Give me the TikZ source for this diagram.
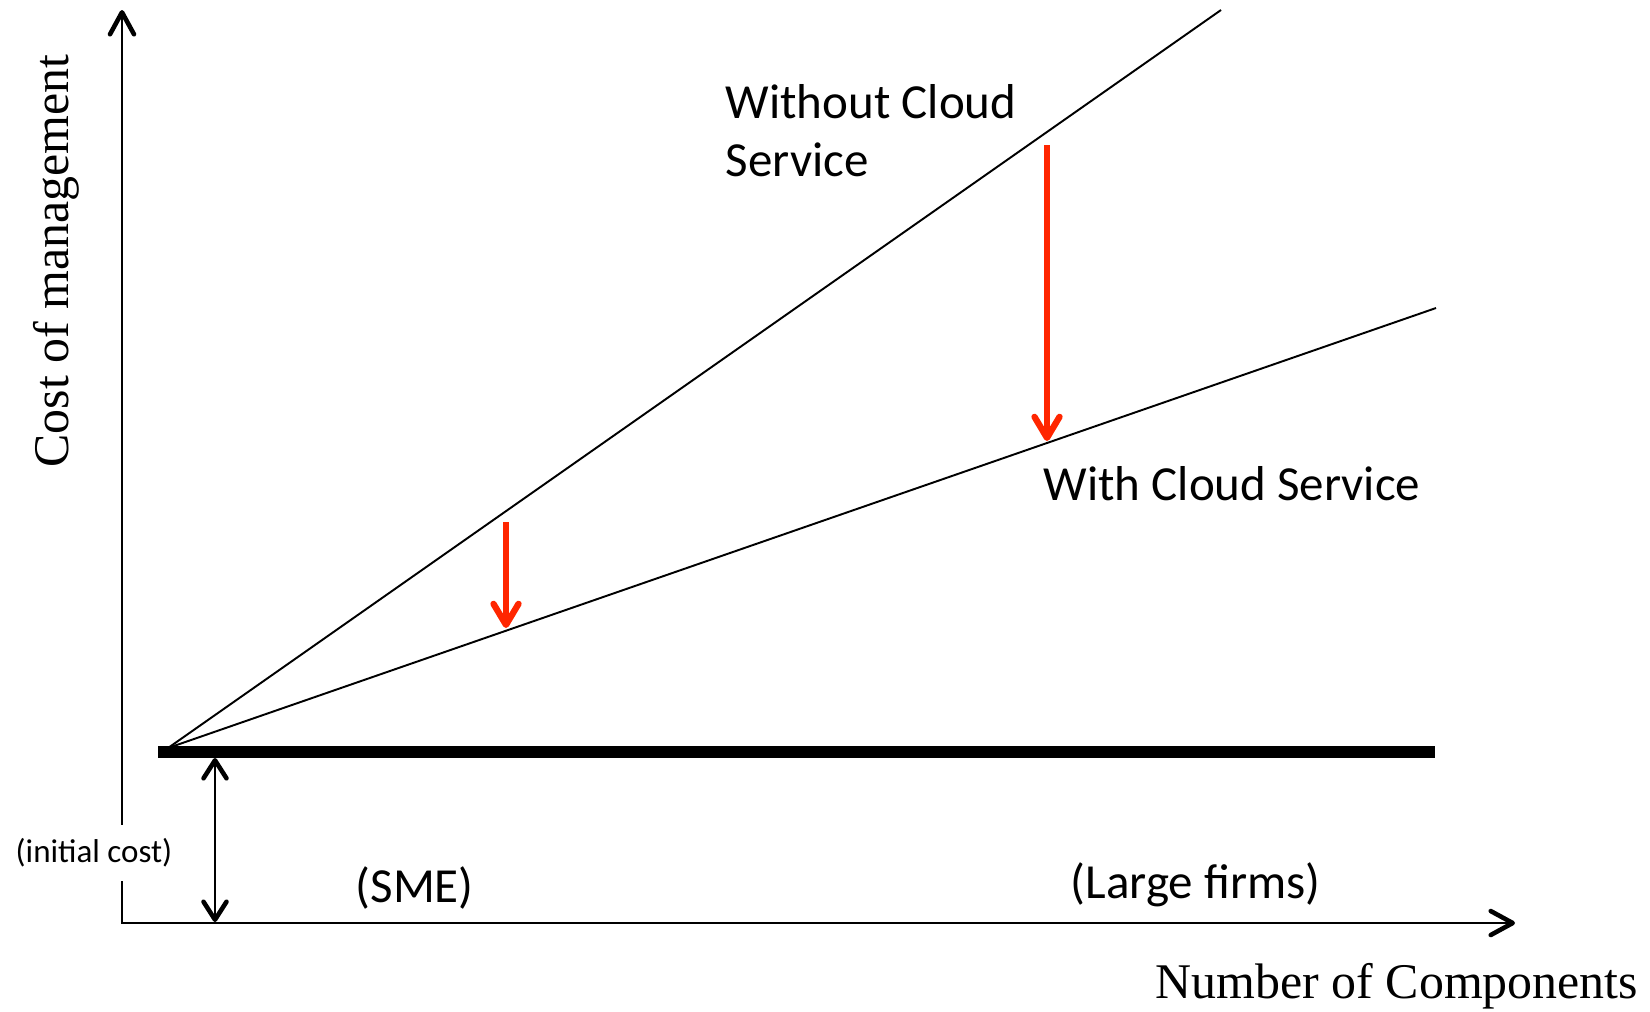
\documentclass[tikz,border=0pt]{standalone}
\usepackage{fontspec}
\setmainfont{Liberation Serif}
\newfontfamily\calibrifont{Carlito}
\usetikzlibrary{arrows.meta}
\definecolor{cutred}{RGB}{255,38,0}

\begin{document}
\begin{tikzpicture}[
  x=0.1mm, y=-0.1mm,
  axis/.style={line width=0.5pt, {Straight Barb[length=2.2mm,width=2.4mm,line width=1.3pt,round]}-{Straight Barb[length=2.2mm,width=2.4mm,line width=1.3pt,round]}},
  cost/.style={line width=0.55pt},
  base/.style={line width=3.4pt},
  cut/.style={draw=cutred, line width=1.5pt, -{Straight Barb[length=2.1mm,width=2.5mm,line width=1.8pt,round]}},
  gap/.style={line width=0.45pt, {Straight Barb[length=1.8mm,width=2.3mm,line width=1.3pt,round]}-{Straight Barb[length=1.8mm,width=2.3mm,line width=1.3pt,round]}},
  lbl/.style={font=\calibrifont\fontsize{13.94pt}{16.5pt}\selectfont, inner sep=0pt},
  ttl/.style={font=\fontsize{14.2pt}{15pt}\selectfont, inner sep=0pt}
]
\useasboundingbox (0,0) rectangle (1650,1011);
% axes
\coordinate (ytip) at (122,10);
\coordinate (orig) at (122,923);
\coordinate (xtip) at (1515,923);
\draw[axis] (ytip) -- (orig) -- (xtip);
\node[font=\calibrifont\fontsize{9.4pt}{10pt}\selectfont, fill=white, inner xsep=1pt, inner ysep=1.4mm] (init) at (94,853) {(initial cost)};
% cost lines
\coordinate (start) at (168,748);
\coordinate (woEnd) at (1221,10);
\coordinate (wEnd) at (1436,308);
\coordinate (flatL) at (158,752);
\coordinate (flatR) at (1435,752);
\draw[base] (flatL) -- (flatR);
\draw[cost] (start) -- (woEnd);
\draw[cost] (start) -- (wEnd);
% initial cost gap
\coordinate (gapTop) at (215,758);
\coordinate (gapBot) at (215,922);
\draw[gap] (gapTop) -- (gapBot);
% savings
\coordinate (smeA) at (506,522);
\coordinate (smeB) at (506,628);
\coordinate (bigA) at (1047,145);
\coordinate (bigB) at (1047,441);
\draw[cut] (smeA) -- (smeB);
\draw[cut] (bigA) -- (bigB);
% labels
\node[lbl, align=left, anchor=north west] (without) at (725,84) {Without Cloud\\Service};
\node[lbl, anchor=base west] (with) at (1043,500) {With Cloud Service};
\node[lbl, anchor=base west] (sme) at (355,902) {(SME)};
\node[lbl, anchor=base west] (large) at (1070,898) {(Large firms)};
\node[ttl, anchor=base west] (xlab) at (1155,998) {Number of Components};
\node[ttl, rotate=90, anchor=base] (ylab) at (68,261) {Cost of management};
\end{tikzpicture}
\end{document}
